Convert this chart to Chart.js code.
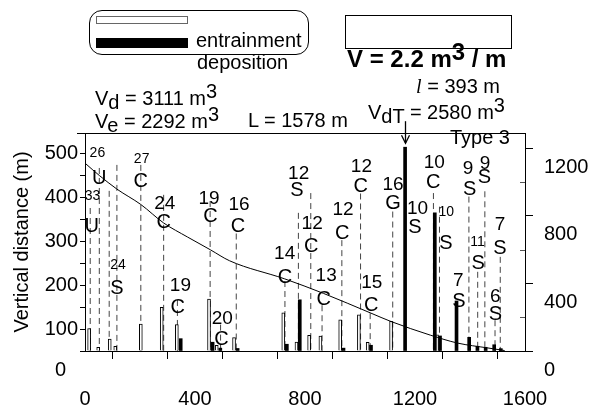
<!DOCTYPE html>
<html><head><meta charset="utf-8">
<script src="https://cdn.jsdelivr.net/npm/chart.js@4.4.1/dist/chart.umd.min.js"></script>
<style>
html,body{margin:0;padding:0;background:#fff;}
#wrap{position:relative;width:590px;height:411px;font-family:"Liberation Sans",Arial,sans-serif;color:#000;overflow:hidden;}
canvas{position:absolute;left:0;top:0;}
.t{position:absolute;font-size:20px;line-height:1;white-space:nowrap;}
.sub{position:relative;top:4px;}
.sup{position:relative;top:-7px;}
</style></head><body>
<div id="wrap">
<canvas id="c" width="590" height="411"></canvas>
<div style="position:absolute;left:89px;top:10px;width:218px;height:43px;border:1px solid #000;border-radius:13px;"></div>
<div style="position:absolute;left:96px;top:16px;width:90px;height:6px;border:1px solid #666;background:#fff"></div>
<div style="position:absolute;left:96px;top:38px;width:92px;height:10px;background:#000"></div>
<div class="t" style="left:196px;top:30px">entrainment</div>
<div class="t" style="left:197px;top:52px">deposition</div>
<div style="position:absolute;left:345px;top:15px;width:165px;height:32px;border:1px solid #000"></div>
<div class="t" style="left:347px;top:47px;font-weight:bold;font-size:24px">V = 2.2 m<span class="sup">3</span> / m</div>
<div class="t" style="right:90px;top:76px"><i style="font-family:'Liberation Serif',serif">l</i> = 393 m</div>
<div class="t" style="left:95px;top:88px">V<span class="sub">d</span> = 3111 m<span class="sup">3</span></div>
<div class="t" style="left:368px;top:102px">V<span class="sub">dT</span> = 2580 m<span class="sup">3</span></div>
<div class="t" style="left:95px;top:111px">V<span class="sub">e</span> = 2292 m<span class="sup">3</span></div>
<div class="t" style="left:248px;top:110px">L = 1578 m</div>
<div class="t" style="right:80px;top:127px">Type 3</div>
</div>
<script>
const FF = '"Liberation Sans", Arial, sans-serif';

// longitudinal profile (distance m, vertical distance m)
const profileX = [0, 52, 116, 203, 286, 373, 456, 526, 726, 867, 1040, 1113, 1256, 1355, 1464, 1526];
const profileY = [477, 449, 418, 383, 341, 309, 280, 255, 214, 181, 136, 117, 86, 68, 57, 51];

// entrainment volumes (m3) at distance
const entrX = [15, 48, 90, 110, 203, 279, 334, 451, 479, 542, 721, 769, 815, 856, 928, 996, 1028, 1113, 1280];
const entrV = [132, 22, 71, 28, 160, 259, 156, 307, 34, 80, 226, 53, 93, 88, 185, 214, 52, 176, 95];

// deposition volumes (m3) at distance
const depoX = [348, 464, 492, 555, 734, 781, 940, 1040, 1164, 1272, 1291, 1351, 1397, 1427, 1457, 1488, 1512];
const depoV = [73, 52, 17, 15, 40, 303, 17, 34, 1206, 818, 89, 296, 81, 28, 22, 37, 14];

// dashed guide lines: distance and top (vertical distance m)
const guideX = [19, 52, 88, 116, 203, 286, 336, 455, 493, 550, 727, 776, 821, 862, 934, 1002, 1037, 1119, 1267, 1289, 1396, 1428, 1454, 1491, 1510];
const guideTop = [375, 466, 414, 473, 473, 405, 166, 391, 110, 317, 209, 364, 409, 154, 302, 408, 136, 367, 409, 378, 401, 230, 413, 120, 264];

// channel type letters
const letterX = [52, 24, 116, 203, 286, 337, 456, 496, 556, 727, 771, 823, 868, 935, 1003, 1041, 1120, 1200, 1266, 1312, 1360, 1399, 1452, 1430, 1509, 1492];
const letterY = [443, 333, 192, 436, 342, 149, 355, 77, 334, 217, 414, 288, 168, 317, 425, 153, 386, 331, 433, 295, 162, 416, 444, 248, 283, 132];
const letterText = ['U','U','S','C','C','C','C','C','C','C','S','C','C','C','C','C','G','S','C','S','S','S','S','S','S','S'];

// gradient numbers above letters
const numX = [290, 347, 451, 499, 560, 726, 777, 826, 877, 938, 1005, 1043, 1120, 1209, 1270, 1357, 1393, 1455, 1509, 1492];
const numY = [384, 199, 396, 123, 383, 272, 453, 340, 221, 370, 469, 206, 427, 373, 477, 210, 464, 475, 336, 174];
const numText = ['24','19','19','20','16','14','12','12','13','12','12','15','16','10','10','7','9','9','7','6'];
const smallNumX = [45, 27, 120, 206, 1314, 1427];
const smallNumY = [500, 402, 246, 487, 365, 298];
const smallNumText = ['26','33','24','27','10','11'];

// axes
const xTicks = [0, 200, 400, 600, 800, 1000, 1200, 1400, 1600];
const xLabels = [0, 400, 800, 1200, 1600];
const leftTicks = [50, 100, 150, 200, 250, 300, 350, 400, 450, 500];
const leftLabels = [100, 200, 300, 400, 500];
const rightTicks = [0, 200, 400, 600, 800, 1000, 1200];
const rightLabels = [0, 400, 800, 1200];
const baseLevel = 50;

const guideData = [];
guideX.forEach((gx, i) => {
  guideData.push({x: gx, y: guideTop[i]}, {x: gx, y: baseLevel}, {x: gx, y: null});
});

const overlay = {
  id: 'overlay',
  afterDatasetsDraw(chart) {
    const {ctx, chartArea, scales} = chart;
    const x = scales.x, y = scales.y, y2 = scales.y2;
    ctx.save();
    ctx.fillStyle = '#000';
    ctx.textAlign = 'center';
    ctx.textBaseline = 'middle';
    const draw = (xs, ys, ts, size) => {
      ctx.font = size + 'px ' + FF;
      xs.forEach((v, i) => ctx.fillText(ts[i], x.getPixelForValue(v), y.getPixelForValue(ys[i])));
    };
    draw(letterX, letterY, letterText, 20);
    draw(numX, numY, numText, 19);
    draw(smallNumX, smallNumY, smallNumText, 14);

    // top frame line
    ctx.strokeStyle = '#000';
    ctx.lineWidth = 1;
    ctx.beginPath();
    ctx.moveTo(chartArea.left - 8, Math.round(chartArea.top) + 0.5);
    ctx.lineTo(chartArea.right, Math.round(chartArea.top) + 0.5);
    ctx.stroke();

    // left axis zero label
    ctx.font = '20px ' + FF;
    ctx.textAlign = 'right';
    ctx.fillText('0', chartArea.left - 19, y.getPixelForValue(baseLevel) + 19);

    // minor inward ticks on right axis
    ctx.strokeStyle = '#555';
    rightTicks.forEach(v => {
      if (!rightLabels.includes(v)) {
        const py = Math.round(y2.getPixelForValue(v)) + 0.5;
        ctx.beginPath(); ctx.moveTo(chartArea.right - 5, py); ctx.lineTo(chartArea.right, py); ctx.stroke();
      }
    });

    // arrow to largest deposition bar
    let im = 0; depoV.forEach((v, i) => { if (v > depoV[im]) im = i; });
    const ax = Math.round(x.getPixelForValue(depoX[im])) + 0.5;
    const tip = y2.getPixelForValue(depoV[im]) - 4;
    ctx.strokeStyle = '#000';
    ctx.lineWidth = 1.3;
    ctx.beginPath(); ctx.moveTo(ax, tip - 22); ctx.lineTo(ax, tip); ctx.stroke();
    ctx.beginPath(); ctx.moveTo(ax - 4, tip - 8); ctx.lineTo(ax, tip); ctx.lineTo(ax + 4, tip - 8); ctx.stroke();
    ctx.restore();
  }
};

new Chart(document.getElementById('c'), {
  type: 'bar',
  data: {
    datasets: [
      { type: 'line', label: 'profile', data: profileX.map((v, i) => ({x: v, y: profileY[i]})), yAxisID: 'y',
        borderColor: '#000', borderWidth: 1, pointRadius: 0, cubicInterpolationMode: 'monotone', fill: false, order: 0 },
      { label: 'deposition', data: depoX.map((v, i) => ({x: v, y: depoV[i]})), yAxisID: 'y2',
        backgroundColor: '#000', borderWidth: 0, barThickness: 3, grouped: false, order: 1 },
      { label: 'entrainment', data: entrX.map((v, i) => ({x: v, y: entrV[i]})), yAxisID: 'y2',
        backgroundColor: '#fff', borderColor: '#000', borderWidth: 1, barThickness: 3, grouped: false, order: 2 },
      { type: 'line', label: 'guides', data: guideData, yAxisID: 'y', spanGaps: false,
        borderColor: '#444', borderWidth: 1, borderDash: [6, 4], pointRadius: 0, fill: false, order: 3 }
    ]
  },
  options: {
    responsive: false,
    animation: false,
    devicePixelRatio: 1,
    layout: { padding: { top: 133, left: 0, right: 0, bottom: 0 } },
    plugins: { legend: { display: false }, tooltip: { enabled: false } },
    scales: {
      x: {
        type: 'linear', position: 'bottom', min: 0, max: 1600, offset: false,
        afterBuildTicks: s => { s.ticks = xTicks.map(v => ({value: v})); },
        ticks: { autoSkip: false, maxRotation: 0, padding: 28, color: '#000', font: {family: FF, size: 20},
          callback: v => xLabels.includes(v) ? String(v) : '' },
        grid: { drawOnChartArea: false, drawTicks: true, tickLength: 8, color: '#000' },
        border: { display: true, color: '#000', width: 1 },
        afterFit: s => { s.height = 60; }
      },
      y: {
        type: 'linear', position: 'left', min: 50, max: 545.5,
        afterBuildTicks: s => { s.ticks = leftTicks.map(v => ({value: v})); },
        ticks: { autoSkip: false, padding: 2, color: '#000', font: {family: FF, size: 20},
          callback: v => leftLabels.includes(v) ? String(v) : '' },
        grid: { drawOnChartArea: false, drawTicks: true, tickLength: 5, color: '#000' },
        border: { display: true, color: '#000', width: 1 },
        title: { display: true, text: 'Vertical distance (m)', color: '#000', font: {family: FF, size: 20},
          padding: { top: 10, bottom: 0 } },
        afterFit: s => { s.width = 85; }
      },
      y2: {
        type: 'linear', position: 'right', min: 0, max: 1290,
        afterBuildTicks: s => { s.ticks = rightTicks.map(v => ({value: v})); },
        ticks: { autoSkip: false, padding: 11, labelOffset: 19, color: '#000', font: {family: FF, size: 20},
          callback: v => rightLabels.includes(v) ? String(v) : '' },
        grid: { drawOnChartArea: false, drawTicks: true, tickLength: 8,
          tickColor: ctx => (ctx.tick && rightLabels.includes(ctx.tick.value)) ? '#000' : 'rgba(0,0,0,0)' },
        border: { display: true, color: '#000', width: 1 },
        afterFit: s => { s.width = 65; }
      }
    }
  },
  plugins: [overlay]
});
</script>
</body></html>
